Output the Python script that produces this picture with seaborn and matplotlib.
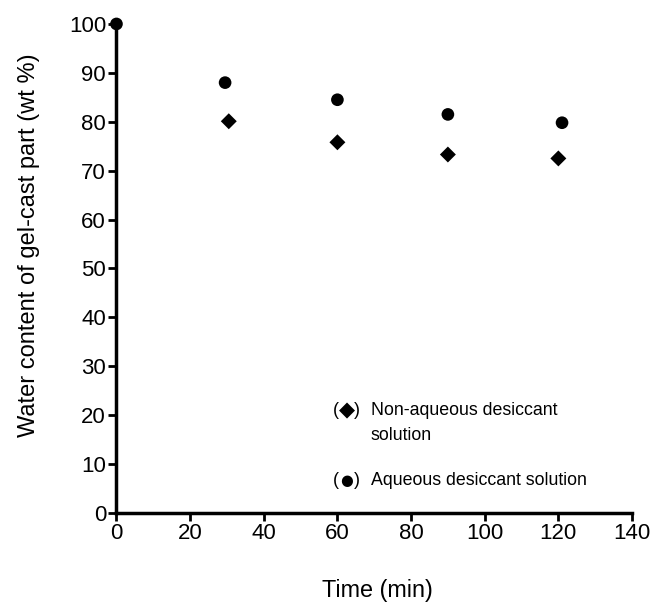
import matplotlib
matplotlib.use("Agg")
import matplotlib.pyplot as plt
import seaborn as sns
import pandas as pd

# Data
aq_time = [0, 29.5, 60, 90, 121]
aq_water = [100, 88.0, 84.5, 81.5, 79.8]
naq_time = [30.5, 60, 90, 120]
naq_water = [80.1, 75.8, 73.3, 72.5]
xticks = [0, 20, 40, 60, 80, 100, 120, 140]
yticks = [0, 10, 20, 30, 40, 50, 60, 70, 80, 90, 100]

sns.set_theme(style="ticks")
plt.rcParams['font.family'] = ['Liberation Sans', 'DejaVu Sans']
plt.rcParams['text.color'] = 'black'
plt.rcParams['axes.labelcolor'] = 'black'
plt.rcParams['xtick.color'] = 'black'
plt.rcParams['ytick.color'] = 'black'

fig = plt.figure(figsize=(6.58, 6.03), dpi=100)
ax = fig.add_axes([0.177, 0.1493, 0.7835, 0.811])

df_aq = pd.DataFrame({"t": aq_time, "w": aq_water})
df_naq = pd.DataFrame({"t": naq_time, "w": naq_water})

sns.scatterplot(data=df_aq, x="t", y="w", marker="o", s=83, color="black",
                edgecolor="none", ax=ax, clip_on=False, zorder=5)
sns.scatterplot(data=df_naq, x="t", y="w", marker="D", s=66, color="black",
                edgecolor="none", ax=ax, clip_on=False, zorder=5)

ax.set_xlim(0, 140)
ax.set_ylim(0, 100)
ax.set_xticks(xticks)
ax.set_yticks(yticks)
ax.tick_params(axis="both", labelsize=16, width=2, length=6, color="black",
               labelcolor="black", pad=1.5)
for s in ["left", "bottom"]:
    ax.spines[s].set_linewidth(2.5)
    ax.spines[s].set_color("black")
sns.despine(ax=ax)

ax.set_xlabel("Time (min)", fontsize=16.8, labelpad=25, color="black")
ax.set_ylabel("Water content of gel-cast part (wt %)", fontsize=17, labelpad=21, color="black")
ax.xaxis.label.set_x(0.506)
ax.yaxis.label.set_y(0.548)

# Legend drawn as text
fs = 12.8
ax.text(58.8, 21.0, "(", fontsize=fs, va="center", ha="left")
ax.text(62.7, 21.0, "\u25C6", fontsize=15, va="center", ha="center", family="DejaVu Sans")
ax.text(66.2, 21.0, ")", fontsize=fs, va="center", ha="right")
ax.text(69.0, 21.0, "Non-aqueous desiccant", fontsize=fs, va="center", ha="left")
ax.text(69.0, 15.9, "solution", fontsize=fs, va="center", ha="left")
ax.text(58.8, 6.7, "(", fontsize=fs, va="center", ha="left")
ax.text(62.5, 6.7, "\u25CF", fontsize=10.5, va="center", ha="center", family="DejaVu Sans")
ax.text(66.2, 6.7, ")", fontsize=fs, va="center", ha="right")
ax.text(69.0, 6.7, "Aqueous desiccant solution", fontsize=fs, va="center", ha="left")

fig.savefig("out.png", dpi=100)
